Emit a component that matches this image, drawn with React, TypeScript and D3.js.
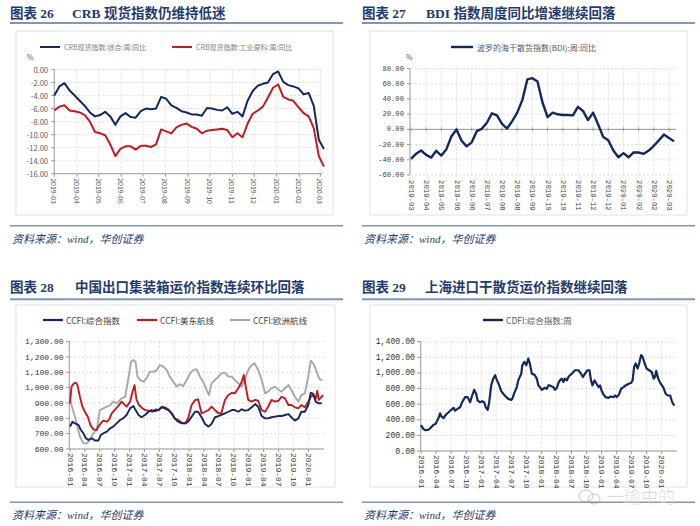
import React from "react";
import * as d3 from "d3";

// ---------------- Panel 26: CRB spot index YoY (weekly) ----------------
const crbStart = new Date(2019, 2, 1);
const crbComposite = [-4.0, -2.6, -2.1, -3.2, -4.0, -4.8, -5.6, -6.6, -7.2, -7.0, -6.5, -7.2, -8.5, -7.2, -6.7, -7.3, -7.4, -6.4, -6.0, -6.1, -6.0, -4.2, -4.5, -5.5, -5.9, -6.4, -6.6, -6.9, -6.9, -7.1, -5.9, -6.0, -6.2, -6.3, -5.8, -6.8, -6.5, -7.2, -4.8, -3.3, -2.5, -2.2, -2.0, -0.7, -0.3, -1.9, -2.4, -2.6, -2.9, -3.8, -3.6, -5.6, -10.8, -12.2];
const crbIndustrial = [-6.3, -5.7, -5.5, -6.3, -6.4, -6.6, -7.0, -8.0, -9.6, -9.8, -10.1, -11.5, -13.3, -12.2, -11.8, -11.8, -12.3, -11.7, -11.7, -11.9, -11.5, -9.2, -9.5, -9.8, -8.9, -8.5, -8.3, -8.8, -9.1, -9.8, -9.4, -9.3, -9.2, -9.1, -9.3, -10.4, -9.8, -10.4, -8.3, -6.8, -6.3, -5.7, -4.3, -2.8, -2.3, -4.2, -4.6, -4.8, -5.8, -6.7, -7.2, -9.0, -13.3, -14.9];
const crbYTicks = [0, -2, -4, -6, -8, -10, -12, -14, -16];
const crbMonthLabels = ["2019-03", "2019-04", "2019-05", "2019-06", "2019-07", "2019-08", "2019-09", "2019-10", "2019-11", "2019-12", "2020-01", "2020-02", "2020-03"];
const crbLegend = ["CRB现货指数:综合:周:同比", "CRB现货指数:工业原料:周:同比"];

// ---------------- Panel 27: BDI YoY (weekly) ----------------
const bdiYoY = [-38.9, -32.2, -27.8, -33.6, -37.1, -28.2, -34.4, -26.0, -9.1, -0.2, -14.9, -22.4, -17.1, -2.4, 0.7, 8.7, 21.1, 18.4, 7.3, 1.1, 10.9, 22.0, 38.4, 65.6, 67.3, 62.9, 35.3, 16.2, 22.0, 19.8, 18.9, 18.9, 18.4, 29.6, 24.2, 12.2, 22.0, 6.4, -10.0, -14.4, -27.8, -36.7, -31.3, -36.7, -30.4, -30.4, -32.2, -27.8, -21.6, -14.4, -6.9, -11.3, -15.8];
const bdiYTicks = [80, 60, 40, 20, 0, -20, -40, -60];
const bdiXLabels = ["2019-03", "2019-04", "2019-05", "2019-06", "2019-06", "2019-07", "2019-08", "2019-08", "2019-09", "2019-10", "2019-10", "2019-11", "2019-12", "2019-12", "2020-01", "2020-02", "2020-02", "2020-03"];
const bdiLabelStep = 3;
const bdiLegend = "波罗的海干散货指数(BDI):周:同比";

// ---------------- Panel 28: CCFI ([months since 2016-01, index]) ----------------
const ccfiComposite: [number, number][] = [[0, 746], [0.5, 778], [1.0, 767], [1.7, 757], [2.2, 724], [2.7, 702], [3.2, 670], [3.7, 659], [4.4, 670], [5.0, 655], [5.7, 655], [6.2, 691], [6.7, 702], [7.4, 713], [8.1, 735], [8.7, 746], [9.4, 767], [10.1, 789], [10.7, 800], [11.4, 822], [12.1, 865], [12.8, 880], [13.2, 854], [13.8, 822], [14.4, 807], [15.1, 822], [15.8, 843], [16.4, 854], [17.1, 848], [17.8, 854], [18.5, 872], [19.1, 865], [19.8, 854], [20.5, 833], [21.1, 800], [21.8, 778], [22.5, 767], [23.2, 767], [23.8, 778], [24.5, 811], [25.2, 843], [25.8, 843], [26.5, 807], [27.2, 763], [27.9, 746], [28.5, 763], [29.2, 807], [29.9, 815], [30.5, 822], [31.2, 833], [31.9, 843], [32.6, 854], [33.2, 854], [33.9, 843], [34.6, 859], [35.2, 850], [35.9, 854], [36.6, 872], [37.3, 893], [37.9, 876], [38.6, 815], [39.3, 800], [39.9, 800], [40.6, 807], [41.3, 811], [42.0, 815], [42.6, 815], [43.3, 822], [44.0, 828], [44.6, 807], [45.3, 785], [46.0, 800], [46.6, 843], [47.3, 843], [48.0, 887], [48.5, 967], [49.0, 959], [49.5, 909], [50.0, 898], [50.7, 898]];
const ccfiUSEast: [number, number][] = [[0, 898], [0.3, 1007], [0.8, 1028], [1.2, 1033], [1.5, 1017], [2.0, 941], [2.5, 876], [3.0, 843], [3.6, 811], [4.1, 757], [4.7, 728], [5.4, 724], [5.7, 746], [6.2, 767], [6.7, 785], [7.4, 778], [7.9, 793], [8.4, 833], [9.1, 859], [9.7, 880], [10.4, 909], [10.9, 893], [11.4, 876], [12.1, 909], [12.6, 974], [13.0, 1017], [13.4, 920], [13.9, 887], [14.6, 865], [15.2, 854], [15.9, 850], [16.6, 843], [17.3, 859], [17.9, 854], [18.5, 876], [19.1, 872], [19.8, 859], [20.5, 828], [21.1, 800], [21.8, 789], [22.5, 772], [23.2, 767], [23.8, 800], [24.5, 887], [25.2, 920], [25.8, 924], [26.5, 833], [27.2, 843], [27.9, 854], [28.5, 876], [29.2, 854], [29.9, 833], [30.5, 833], [31.2, 920], [31.9, 952], [32.6, 967], [33.2, 963], [33.9, 996], [34.6, 1039], [35.0, 1083], [35.4, 1007], [35.9, 920], [36.6, 909], [37.3, 920], [37.9, 915], [38.6, 854], [39.3, 843], [39.9, 876], [40.6, 920], [41.3, 909], [42.0, 915], [42.6, 941], [43.3, 930], [44.0, 887], [44.6, 887], [45.3, 872], [46.0, 865], [46.6, 887], [47.3, 872], [48.0, 909], [48.5, 941], [49.0, 952], [49.5, 930], [49.8, 980], [50.1, 920], [50.7, 941], [51.0, 952]];
const ccfiEurope: [number, number][] = [[0, 920], [1.0, 811], [2.0, 680], [2.7, 637], [3.4, 637], [4.0, 659], [4.7, 702], [5.4, 728], [6.0, 854], [6.7, 865], [7.4, 876], [8.1, 887], [8.7, 909], [9.4, 898], [10.4, 930], [11.1, 941], [11.7, 1050], [12.3, 1170], [12.8, 1180], [13.2, 1170], [13.6, 1072], [14.1, 1050], [14.8, 1039], [15.4, 1061], [16.1, 1104], [16.8, 1104], [17.4, 1111], [18.1, 1148], [18.8, 1137], [19.5, 1115], [20.1, 1072], [20.8, 1039], [21.5, 1007], [22.1, 1022], [22.8, 1011], [23.5, 1050], [24.2, 1093], [24.8, 1115], [25.5, 1120], [26.2, 1072], [26.8, 1039], [27.5, 985], [28.0, 952], [28.5, 1028], [29.2, 1050], [29.9, 1072], [30.5, 1093], [31.2, 1098], [31.9, 1072], [32.6, 1072], [33.2, 1050], [33.9, 1028], [34.6, 1007], [35.2, 1050], [35.9, 1115], [36.6, 1148], [37.2, 1159], [37.9, 1115], [38.6, 1050], [39.3, 963], [39.9, 974], [40.6, 996], [41.3, 1007], [41.9, 989], [42.6, 974], [43.3, 996], [44.0, 1017], [44.6, 985], [45.3, 941], [46.0, 909], [46.6, 952], [47.3, 963], [48.0, 1072], [48.5, 1176], [49.2, 1148], [49.9, 1083], [50.3, 1054], [50.8, 1050]];
const ccfiYTicks = [600, 700, 800, 900, 1000, 1100, 1200, 1300];
const ccfiLegend = ["CCFI:综合指数", "CCFI:美东航线", "CCFI:欧洲航线"];

// ---------------- Panel 29: CDFI ([months since 2016-01, index]) ----------------
const cdfi: [number, number][] = [[0, 332], [0.5, 280], [0.9, 267], [1.5, 272], [2.0, 302], [2.5, 336], [2.9, 345], [3.5, 422], [3.8, 483], [4.1, 440], [4.5, 422], [4.8, 453], [5.1, 474], [5.5, 496], [6.0, 526], [6.5, 552], [6.8, 517], [7.3, 539], [7.8, 560], [8.2, 625], [8.8, 690], [9.3, 690], [9.8, 625], [10.2, 711], [10.6, 784], [11.0, 733], [11.3, 646], [11.8, 625], [12.2, 638], [12.6, 625], [12.9, 560], [13.3, 526], [13.6, 625], [14.0, 840], [14.4, 927], [14.8, 970], [15.1, 914], [15.6, 840], [16.0, 767], [16.4, 733], [16.9, 698], [17.4, 668], [18.0, 655], [18.2, 668], [18.6, 741], [19.1, 819], [19.4, 905], [20.0, 991], [20.2, 1099], [20.6, 1142], [21.0, 1099], [21.4, 1185], [21.7, 1121], [22.1, 991], [22.4, 983], [22.7, 970], [23.1, 927], [23.4, 840], [23.7, 819], [24.1, 784], [24.4, 797], [24.7, 810], [25.1, 797], [25.4, 840], [25.7, 840], [26.1, 827], [26.4, 819], [26.7, 784], [27.1, 810], [27.4, 871], [27.7, 905], [28.1, 927], [28.4, 883], [28.7, 927], [29.1, 905], [29.4, 948], [29.7, 970], [30.1, 991], [30.4, 1013], [30.7, 1034], [31.4, 1034], [31.9, 991], [32.3, 948], [32.7, 991], [33.2, 1034], [33.6, 1034], [33.9, 905], [34.2, 840], [34.6, 905], [35.0, 862], [35.4, 819], [35.7, 840], [36.0, 776], [36.4, 724], [36.8, 690], [37.4, 681], [37.8, 698], [38.4, 690], [38.7, 711], [39.0, 690], [39.5, 724], [39.9, 797], [40.4, 819], [40.8, 840], [41.4, 862], [41.9, 871], [42.2, 905], [42.5, 1077], [42.8, 1121], [43.2, 1056], [43.5, 1121], [43.9, 1228], [44.2, 1207], [44.6, 1121], [45.0, 1056], [45.5, 1034], [46.0, 1013], [46.4, 927], [46.7, 957], [46.9, 1026], [47.3, 927], [47.8, 862], [48.3, 819], [48.8, 733], [49.2, 711], [49.7, 711], [50.1, 625], [50.5, 582]];
const cdfiYTicks = [0, 200, 400, 600, 800, 1000, 1200, 1400];
const cdfiLegend = "CDFI:综合指数:周";

const quarterLabels = ["2016-01", "2016-04", "2016-07", "2016-10", "2017-01", "2017-04", "2017-07", "2017-10", "2018-01", "2018-04", "2018-07", "2018-10", "2019-01", "2019-04", "2019-07", "2019-10", "2020-01"];

const titles = [
  { num: "图表 26", text: "CRB 现货指数仍维持低迷" },
  { num: "图表 27", text: "BDI 指数周度同比增速继续回落" },
  { num: "图表 28", text: "中国出口集装箱运价指数连续环比回落" },
  { num: "图表 29", text: "上海进口干散货运价指数继续回落" },
];
const sourceText = "资料来源：wind，华创证券";

// ---------------- styles ----------------
const NAVY = "#13285c";
const RED = "#c41a1f";
const GRAY = "#a8a8a8";
const TITLE_C = "#1f3a6e";
const RULE_C = "#8496b0";
const GRID_C = "#d6d6d6";
const AXIS_C = "#9a9a9a";
const SANS = "'Noto Sans CJK SC', 'Noto Sans', sans-serif";
const MONO = "'Liberation Mono', 'DejaVu Sans Mono', monospace";
const SERIF = "'Liberation Serif', 'Noto Sans CJK SC', serif";

function Header({ x, numX, textX, y, lineY, x1 }: any) {
  return null;
}

function Frame({ idx, x0, x1, titleY, ruleY, textX, srcRuleY, srcY, box }: any) {
  const t = titles[idx];
  return (
    <g>
      <text x={x0} y={titleY} fontFamily={SERIF} fontWeight={700} fontSize={13.5} fill={TITLE_C}>{t.num}</text>
      <text x={textX} y={titleY} fontFamily={SERIF} fontWeight={700} fontSize={13.5} fill={TITLE_C}>{t.text}</text>
      <line x1={x0} x2={x1} y1={ruleY} y2={ruleY} stroke={RULE_C} strokeWidth={2} />
      <rect x={box[0]} y={box[1]} width={box[2] - box[0]} height={box[3] - box[1]} fill="#fff" stroke="#e2e2e2" strokeWidth={1} />
      <line x1={x0} x2={x1} y1={srcRuleY} y2={srcRuleY} stroke={RULE_C} strokeWidth={1.5} />
      <text x={x0 + 2} y={srcY} fontFamily={SERIF} fontStyle="italic" fontSize={11} fill={TITLE_C}>{sourceText}</text>
    </g>
  );
}

function Panel26() {
  const y = d3.scaleLinear().domain([-16, 0]).range([173.7, 69.5]);
  const x = d3.scaleTime().domain([new Date(2019, 2, 1), new Date(2020, 2, 1)]).range([54.3, 320.3]);
  const dates = crbComposite.map((_, i) => d3.timeDay.offset(crbStart, 7 * i));
  const monthTicks = crbMonthLabels.map((_, i) => d3.timeMonth.offset(crbStart, i));
  const line = d3.line<number>().x((_, i) => x(dates[i])).y((v) => y(v));
  const xr = 322;
  return (
    <g>
      <Frame idx={0} x0={10} x1={343} titleY={17.5} ruleY={23} textX={72} srcRuleY={225.7} srcY={243} box={[16, 31, 333, 215]} />
      {crbYTicks.map((v) => (
        <line key={"h" + v} x1={x(crbStart)} x2={xr} y1={y(v)} y2={y(v)} stroke={GRID_C} strokeDasharray="2,2" strokeWidth={0.8} />
      ))}
      {monthTicks.slice(1).map((d, i) => (
        <line key={"v" + i} x1={x(d)} x2={x(d)} y1={y(0)} y2={y(-16)} stroke={GRID_C} strokeDasharray="2,2" strokeWidth={0.8} />
      ))}
      <line x1={x(crbStart)} x2={x(crbStart)} y1={y(0)} y2={y(-16)} stroke={AXIS_C} />
      <line x1={x(crbStart)} x2={xr} y1={y(-16)} y2={y(-16)} stroke={AXIS_C} />
      {crbYTicks.map((v) => (
        <g key={"yl" + v}>
          <line x1={x(crbStart) - 3} x2={x(crbStart)} y1={y(v)} y2={y(v)} stroke={AXIS_C} />
          <text x={48} y={y(v)} textAnchor="end" dominantBaseline="central" fontFamily={SANS} fontSize={7.5} fill="#595959">{v.toFixed(2)}</text>
        </g>
      ))}
      {monthTicks.map((d, i) => (
        <g key={"xl" + i}>
          <line x1={x(d)} x2={x(d)} y1={y(-16)} y2={y(-16) + 3} stroke={AXIS_C} />
          <text transform={`translate(${x(d)},${y(-16) + 4.5}) rotate(90)`} dominantBaseline="central" fontFamily={SANS} fontSize={7} fill="#595959">{crbMonthLabels[i]}</text>
        </g>
      ))}
      <path d={line(crbComposite) || ""} fill="none" stroke={NAVY} strokeWidth={2} strokeLinejoin="round" />
      <path d={line(crbIndustrial) || ""} fill="none" stroke={RED} strokeWidth={2} strokeLinejoin="round" />
      <text x={27} y={57} fontFamily={SANS} fontSize={7} fill="#595959" dominantBaseline="central">%</text>
      <line x1={40} x2={60} y1={47} y2={47} stroke={NAVY} strokeWidth={2} />
      <text x={64} y={47} dominantBaseline="central" fontFamily={SANS} fontSize={7} fill="#7f7f7f">{crbLegend[0]}</text>
      <line x1={172} x2={192} y1={47} y2={47} stroke={RED} strokeWidth={2} />
      <text x={196} y={47} dominantBaseline="central" fontFamily={SANS} fontSize={7} fill="#7f7f7f">{crbLegend[1]}</text>
    </g>
  );
}

function Panel27() {
  const y = d3.scaleLinear().domain([-60, 80]).range([175, 68.5]);
  const x = d3.scaleLinear().domain([0, 51]).range([411, 669]);
  const ticks = bdiXLabels.map((_, i) => i * bdiLabelStep);
  const line = d3.line<number>().x((_, i) => x(i)).y((v) => y(v));
  const xr = 676;
  return (
    <g>
      <Frame idx={1} x0={362} x1={695} titleY={17.5} ruleY={23} textX={426} srcRuleY={225.7} srcY={243} box={[370, 31, 687, 215]} />
      {bdiYTicks.map((v) => (
        <line key={"h" + v} x1={x(0)} x2={xr} y1={y(v)} y2={y(v)} stroke={GRID_C} strokeDasharray="2,2" strokeWidth={0.8} />
      ))}
      {ticks.slice(1).map((t) => (
        <line key={"v" + t} x1={x(t)} x2={x(t)} y1={y(80)} y2={y(-60)} stroke={GRID_C} strokeDasharray="2,2" strokeWidth={0.8} />
      ))}
      <line x1={x(0) - 1} x2={x(0) - 1} y1={y(80)} y2={y(-60)} stroke={AXIS_C} />
      <line x1={x(0) - 1} x2={xr} y1={y(0)} y2={y(0)} stroke={AXIS_C} />
      {ticks.map((t) => (
        <line key={"tk" + t} x1={x(t)} x2={x(t)} y1={y(0) - 2} y2={y(0) + 2} stroke={AXIS_C} />
      ))}
      {bdiYTicks.map((v) => (
        <g key={"yl" + v}>
          <line x1={x(0) - 4} x2={x(0) - 1} y1={y(v)} y2={y(v)} stroke={AXIS_C} />
          <text x={404} y={y(v)} textAnchor="end" dominantBaseline="central" fontFamily={MONO} fontSize={7.2} fill="#404040">{v.toFixed(2).replace("-", "-")}</text>
        </g>
      ))}
      {ticks.map((t, i) => (
        <text key={"xl" + t} transform={`translate(${x(t)},${y(-60) + 5}) rotate(90)`} dominantBaseline="central" fontFamily={MONO} fontSize={7.3} fill="#404040">{bdiXLabels[i]}</text>
      ))}
      <path d={line(bdiYoY) || ""} fill="none" stroke={NAVY} strokeWidth={2.4} strokeLinejoin="round" />
      <text x={406} y={57} fontFamily={SANS} fontSize={7} fill="#595959" dominantBaseline="central">%</text>
      <line x1={451} x2={473} y1={47} y2={47} stroke={NAVY} strokeWidth={2.4} />
      <text x={477} y={47} dominantBaseline="central" fontFamily={SANS} fontSize={8} fill="#595959">{bdiLegend}</text>
    </g>
  );
}

function Panel28() {
  const y = d3.scaleLinear().domain([600, 1300]).range([449, 341.7]);
  const x = d3.scaleLinear().domain([0, 48]).range([70, 308.3]);
  const line = d3.line<[number, number]>().x((d) => x(d[0])).y((d) => y(d[1]));
  const xr = 324;
  const qs = quarterLabels.map((_, i) => i * 3);
  return (
    <g>
      <Frame idx={2} x0={10} x1={343} titleY={292} ruleY={299.3} textX={75} srcRuleY={502.3} srcY={518.5} box={[16, 305, 335, 487]} />
      {ccfiYTicks.map((v) => (
        <line key={"h" + v} x1={x(0)} x2={xr} y1={y(v)} y2={y(v)} stroke={GRID_C} strokeDasharray="2,2" strokeWidth={0.8} />
      ))}
      {qs.slice(1).map((m) => (
        <line key={"v" + m} x1={x(m)} x2={x(m)} y1={y(1300)} y2={y(600)} stroke={GRID_C} strokeDasharray="2,2" strokeWidth={0.8} />
      ))}
      <line x1={x(0) - 0.7} x2={x(0) - 0.7} y1={y(1300)} y2={y(600)} stroke={AXIS_C} />
      <line x1={x(0) - 0.7} x2={xr} y1={y(600)} y2={y(600)} stroke={AXIS_C} />
      {ccfiYTicks.map((v) => (
        <g key={"yl" + v}>
          <line x1={x(0) - 4} x2={x(0)} y1={y(v)} y2={y(v)} stroke={AXIS_C} />
          <text x={63.5} y={y(v)} textAnchor="end" dominantBaseline="central" fontFamily={MONO} fontSize={8} fill="#333">{d3.format(",.2f")(v)}</text>
        </g>
      ))}
      {qs.map((m, i) => (
        <g key={"xl" + m}>
          <line x1={x(m)} x2={x(m)} y1={y(600)} y2={y(600) + 3} stroke={AXIS_C} />
          <text transform={`translate(${x(m)},${y(600) + 4}) rotate(90)`} dominantBaseline="central" fontFamily={MONO} fontSize={8} fill="#333">{quarterLabels[i]}</text>
        </g>
      ))}
      <path d={line(ccfiEurope) || ""} fill="none" stroke={GRAY} strokeWidth={1.9} strokeLinejoin="round" />
      <path d={line(ccfiUSEast) || ""} fill="none" stroke={RED} strokeWidth={1.9} strokeLinejoin="round" />
      <path d={line(ccfiComposite) || ""} fill="none" stroke={NAVY} strokeWidth={1.9} strokeLinejoin="round" />
      {[NAVY, RED, GRAY].map((c, i) => {
        const lx = [43, 137, 230][i];
        return (
          <g key={"lg" + i}>
            <line x1={lx} x2={lx + 20} y1={320} y2={320} stroke={c} strokeWidth={2.2} />
            <text x={lx + 23} y={320} dominantBaseline="central" fontFamily={SANS} fontSize={8.5} fill="#404040">{ccfiLegend[i]}</text>
          </g>
        );
      })}
    </g>
  );
}

function Panel29() {
  const y = d3.scaleLinear().domain([0, 1400]).range([451, 341.7]);
  const x = d3.scaleLinear().domain([0, 48]).range([421, 661.7]);
  const line = d3.line<[number, number]>().x((d) => x(d[0])).y((d) => y(d[1]));
  const xr = 677;
  const qs = quarterLabels.map((_, i) => i * 3);
  return (
    <g>
      <Frame idx={3} x0={362} x1={695} titleY={292} ruleY={299.3} textX={425} srcRuleY={502.3} srcY={518.5} box={[370, 305, 687, 487]} />
      {cdfiYTicks.map((v) => (
        <line key={"h" + v} x1={x(0)} x2={xr} y1={y(v)} y2={y(v)} stroke={GRID_C} strokeDasharray="2,2" strokeWidth={0.8} />
      ))}
      {qs.slice(1).map((m) => (
        <line key={"v" + m} x1={x(m)} x2={x(m)} y1={y(1400)} y2={y(0)} stroke={GRID_C} strokeDasharray="2,2" strokeWidth={0.8} />
      ))}
      <line x1={x(0) - 0.3} x2={x(0) - 0.3} y1={y(1400)} y2={y(0)} stroke={AXIS_C} />
      <line x1={x(0) - 0.3} x2={xr} y1={y(0)} y2={y(0)} stroke={AXIS_C} />
      {cdfiYTicks.map((v) => (
        <g key={"yl" + v}>
          <line x1={x(0) - 4} x2={x(0)} y1={y(v)} y2={y(v)} stroke={AXIS_C} />
          <text x={415} y={y(v)} textAnchor="end" dominantBaseline="central" fontFamily={MONO} fontSize={8.2} fill="#333">{d3.format(",.2f")(v)}</text>
        </g>
      ))}
      {qs.map((m, i) => (
        <g key={"xl" + m}>
          <line x1={x(m)} x2={x(m)} y1={y(0)} y2={y(0) + 3} stroke={AXIS_C} />
          <text transform={`translate(${x(m)},${y(0) + 4}) rotate(90)`} dominantBaseline="central" fontFamily={MONO} fontSize={8} fill="#333">{quarterLabels[i]}</text>
        </g>
      ))}
      <path d={line(cdfi) || ""} fill="none" stroke={NAVY} strokeWidth={2.2} strokeLinejoin="round" />
      <line x1={483} x2={503} y1={320} y2={320} stroke={NAVY} strokeWidth={2.4} />
      <text x={506} y={320} dominantBaseline="central" fontFamily={SANS} fontSize={8.5} fill="#595959">{cdfiLegend}</text>
      <g opacity={0.55}>
        <ellipse cx={586} cy={496} rx={7} ry={6} fill="none" stroke="#9a9a9a" strokeWidth={1} />
        <ellipse cx={594} cy={499} rx={6} ry={5} fill="none" stroke="#9a9a9a" strokeWidth={1} />
        <text x={607} y={503} fontFamily={SANS} fontSize={17} fill="#9a9a9a" stroke="#fff" strokeWidth={0.6}>一瑜中的</text>
      </g>
    </g>
  );
}

export default function App() {
  return (
    <svg width={700} height={526} viewBox="0 0 700 526" style={{ position: "absolute", left: 0, top: 0, background: "#fff" }}>
      <rect x={0} y={0} width={700} height={526} fill="#fff" />
      <Panel26 />
      <Panel27 />
      <Panel28 />
      <Panel29 />
    </svg>
  );
}
